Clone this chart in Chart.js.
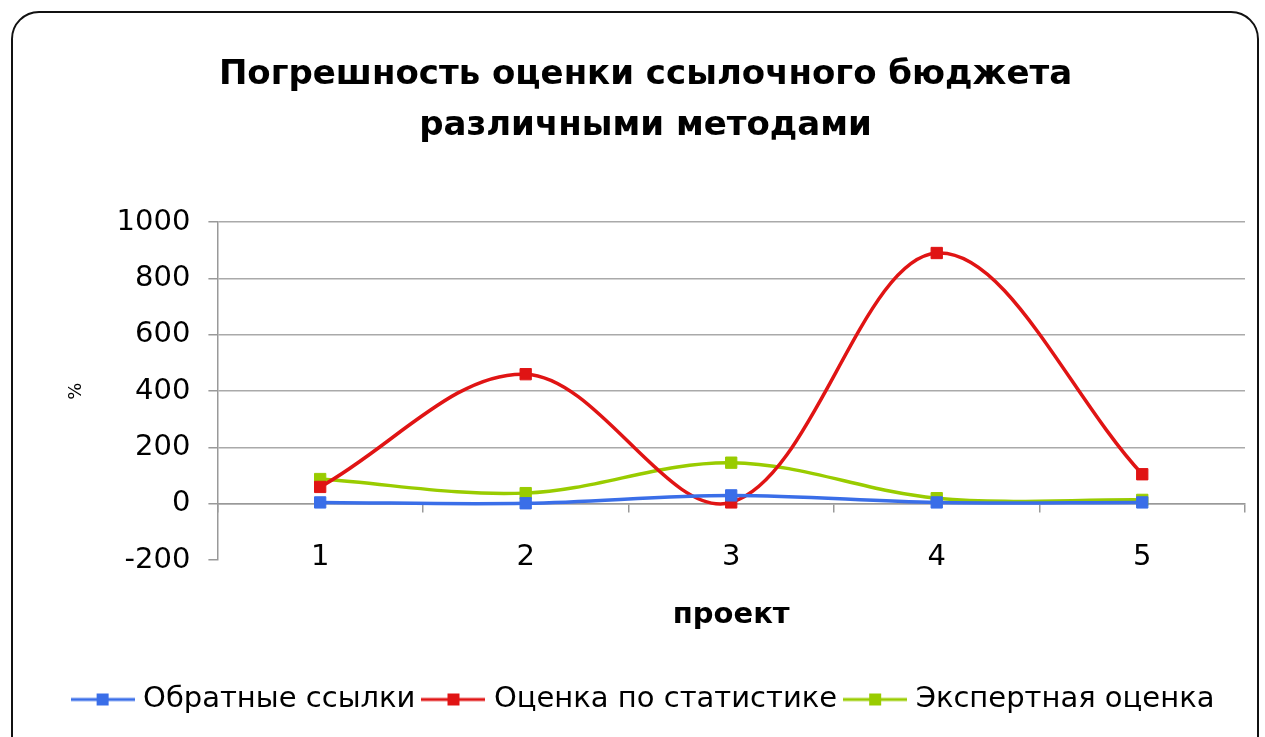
<!DOCTYPE html>
<html>
<head>
<meta charset="utf-8">
<script src="https://cdn.jsdelivr.net/npm/chart.js@4"></script>
<style>
    html, body { margin: 0; padding: 0; background: #fff; overflow: hidden; }
    #wrap { position: relative; width: 1265px; height: 737px; }
    #frame {
        position: absolute; left: 11px; top: 11px; width: 1244px; height: 760px;
        border: 2px solid #111; border-radius: 28px; pointer-events: none;
    }
</style>
</head>
<body>
<div id="wrap">
    <canvas id="chart" width="1265" height="737"></canvas>
    <div id="frame"></div>
</div>
<script>
    /* =========================
       DATOS
    ========================= */

    const proyectos = ["1", "2", "3", "4", "5"];

    const seriesNames = ["Обратные ссылки", "Оценка по статистике", "Экспертная оценка"];

    const obratnye = [5, 2, 30, 5, 5];
    const statistika = [60, 460, 5, 890, 105];
    const ekspert = [88, 38, 146, 20, 14];

    const yTicks = [-200, 0, 200, 400, 600, 800, 1000];

    const colores = ["#3a6ee8", "#e01414", "#99cc00"];

    const fuente = "'DejaVu Sans', Arial, sans-serif";

    /* marcador de la leyenda: línea con cuadrado */
    function legendMark(color){
        const c = document.createElement("canvas");
        c.width = 64;
        c.height = 14;
        const ctx = c.getContext("2d");
        ctx.strokeStyle = color;
        ctx.lineWidth = 3;
        ctx.beginPath();
        ctx.moveTo(0, 7);
        ctx.lineTo(64, 7);
        ctx.stroke();
        ctx.fillStyle = color;
        ctx.fillRect(26, 1, 12, 12);
        return c;
    }

    const valores = [obratnye, statistika, ekspert];

    const datasets = valores.map(function(v, i){
        return {
            label: seriesNames[i],
            data: v,
            borderColor: colores[i],
            backgroundColor: colores[i],
            borderWidth: 3.5,
            tension: 0.35,
            pointStyle: "rect",
            pointRadius: 8,
            pointHoverRadius: 8,
            pointBorderWidth: 1,
            xAxisID: "x"
        };
    });

    new Chart(document.getElementById("chart"), {

        type: "line",

        data: {
            labels: proyectos,
            datasets: datasets
        },

        options: {

            responsive: false,
            animation: false,

            layout: {
                padding: { left: 46, right: 20, top: 0, bottom: 13 }
            },

            plugins: {

                title: {
                    display: true,
                    text: ["Погрешность оценки ссылочного бюджета", "различными методами"],
                    color: "#000",
                    font: { family: fuente, size: 34, weight: "bold", lineHeight: 1.5 },
                    padding: { top: 50, bottom: 70 }
                },

                legend: {
                    display: true,
                    position: "bottom",
                    labels: {
                        color: "#000",
                        font: { family: fuente, size: 29 },
                        usePointStyle: true,
                        pointStyleWidth: 52,
                        padding: 12,
                        generateLabels: function(chart){
                            return chart.data.datasets.map(function(ds, i){
                                return {
                                    text: ds.label,
                                    pointStyle: legendMark(colores[i]),
                                    fillStyle: colores[i],
                                    strokeStyle: colores[i],
                                    lineWidth: 0,
                                    hidden: false,
                                    datasetIndex: i
                                };
                            });
                        }
                    }
                },

                tooltip: { enabled: false }

            },

            scales: {

                x: {
                    position: { y: 0 },
                    offset: true,
                    grid: {
                        offset: true,
                        drawOnChartArea: false,
                        drawTicks: true,
                        tickLength: 8,
                        color: "#999",
                        lineWidth: 1.5
                    },
                    border: { display: true, color: "#999", width: 1.5 },
                    ticks: {
                        color: "#000",
                        font: { family: fuente, size: 29 },
                        padding: 28
                    }
                },

                xTitle: {
                    type: "category",
                    labels: proyectos,
                    position: "bottom",
                    offset: true,
                    grid: { display: false },
                    border: { display: false },
                    ticks: { display: false },
                    title: {
                        display: true,
                        text: "проект",
                        color: "#000",
                        font: { family: fuente, size: 29, weight: "bold", lineHeight: 1.2 },
                        padding: { top: 30, bottom: 40 }
                    }
                },

                y: {
                    min: -200,
                    max: 1000,
                    afterBuildTicks: function(axis){
                        axis.ticks = yTicks.map(function(v){ return { value: v }; });
                    },
                    grid: {
                        color: function(ctx){
                            return ctx.tick && ctx.tick.value === -200 ? "rgba(0,0,0,0)" : "#aaa";
                        },
                        tickColor: "#999",
                        tickLength: 9,
                        lineWidth: 1.5
                    },
                    border: { display: true, color: "#999", width: 1.5 },
                    ticks: {
                        color: "#000",
                        font: { family: fuente, size: 29 },
                        padding: 18,
                        callback: function(value){ return String(value); }
                    },
                    title: {
                        display: true,
                        text: "%",
                        color: "#000",
                        font: { family: fuente, size: 18, lineHeight: 1.2 },
                        padding: { top: 20, bottom: 11 }
                    }
                }

            }

        }

    });
</script>
</body>
</html>
